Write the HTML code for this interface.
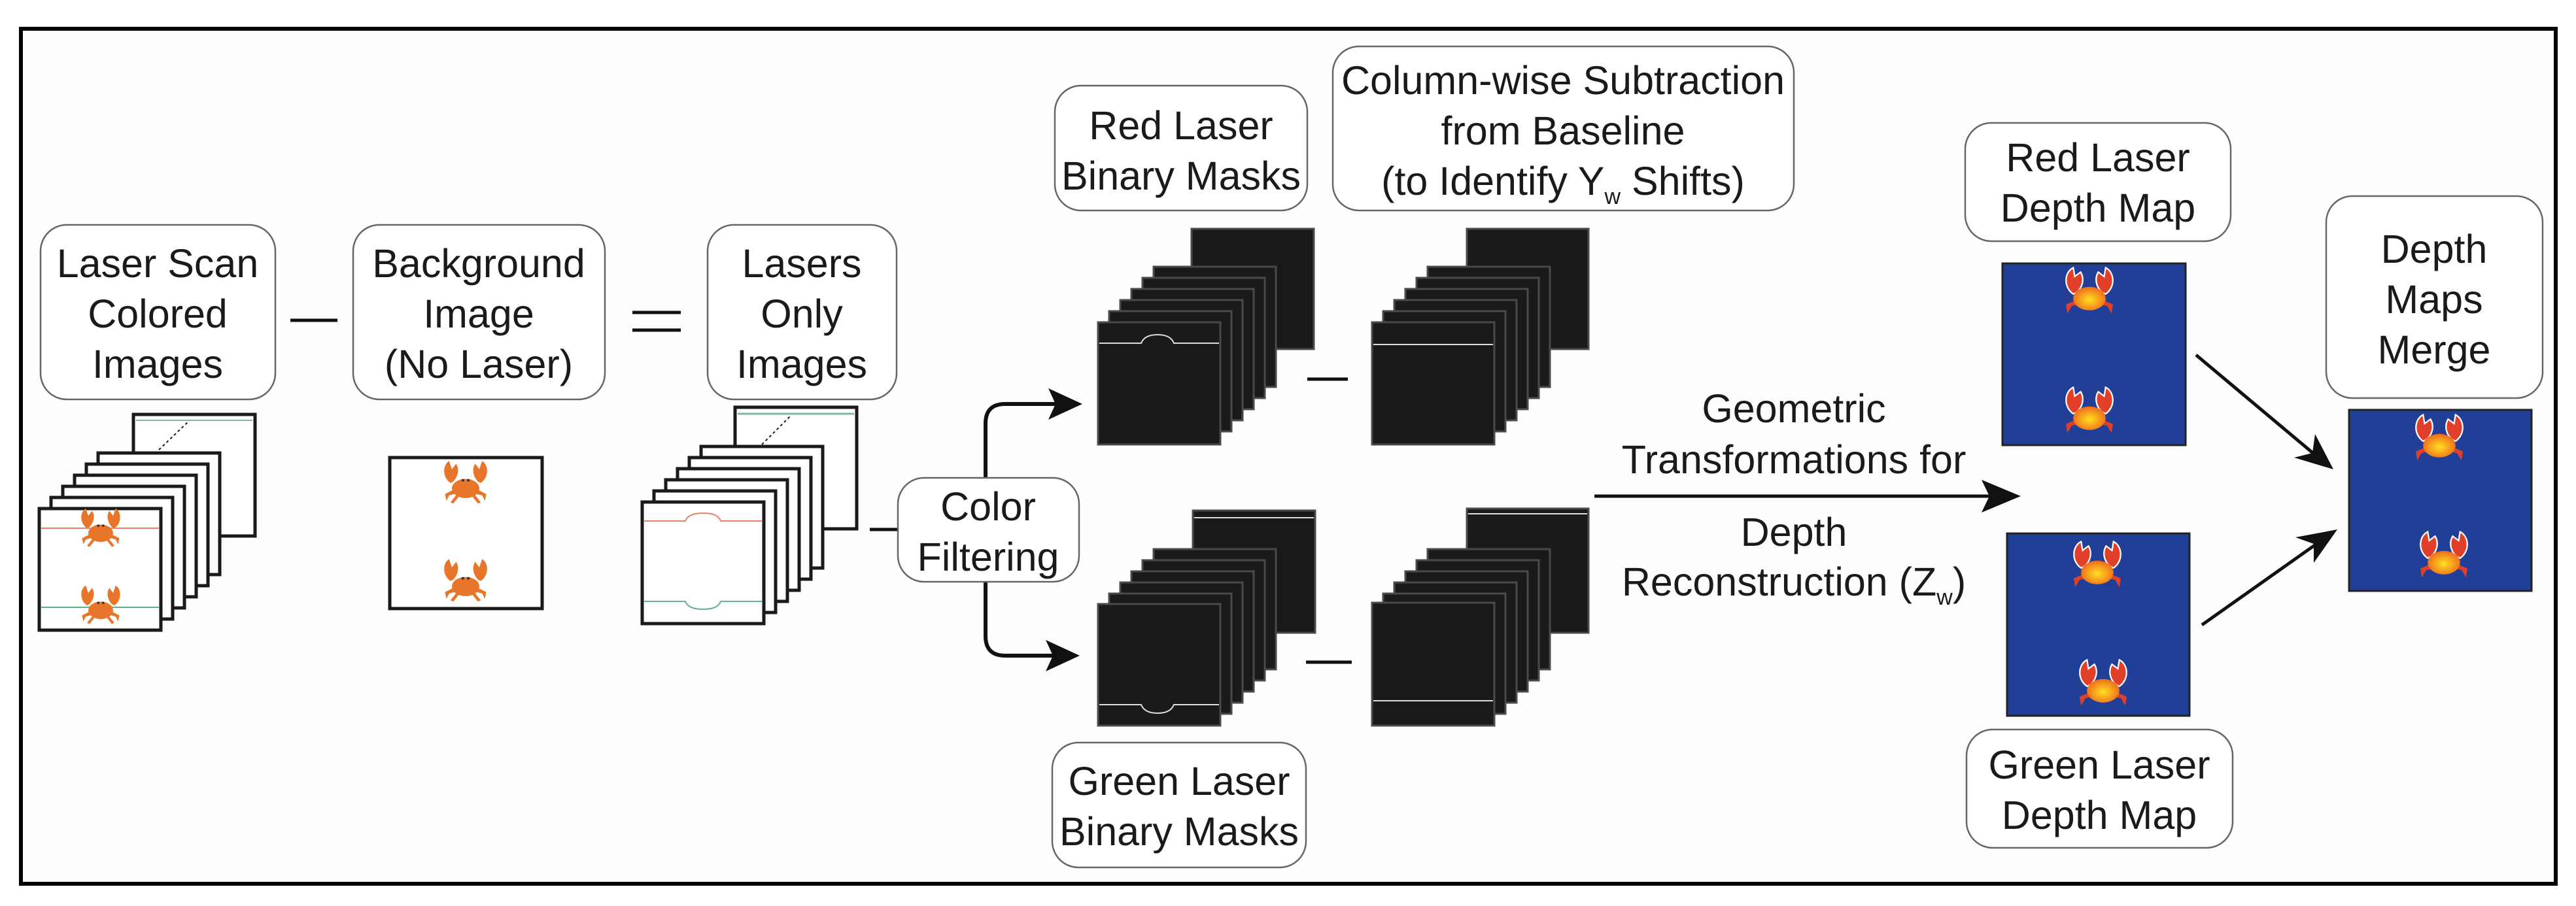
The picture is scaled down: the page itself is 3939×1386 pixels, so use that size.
<!DOCTYPE html>
<html><head><meta charset="utf-8"><style>
html,body{margin:0;padding:0;background:#fff}
svg{display:block}
text{font-family:"Liberation Sans",sans-serif;font-size:61px;fill:#1a1a1a;text-anchor:middle}
</style></head><body>
<svg width="3939" height="1386" viewBox="0 0 3939 1386" xmlns="http://www.w3.org/2000/svg">
<defs>
<radialGradient id="cg" cx="50%" cy="55%" r="55%"><stop offset="0" stop-color="#ffe020"/><stop offset="1" stop-color="#ee6a1c"/></radialGradient>
<symbol id="crab" viewBox="-40 -40 80 80" overflow="visible">
 <g fill="#e8762a">
  <ellipse cx="0" cy="6" rx="20" ry="14"/>
  <path d="M-22,-2 C-34,-10 -34,-28 -24,-34 L-20,-22 L-14,-30 C-8,-22 -12,-10 -18,-4 Z"/>
  <path d="M22,-2 C34,-10 34,-28 24,-34 L20,-22 L14,-30 C8,-22 12,-10 18,-4 Z"/>
  <path d="M-18,8 L-30,14 L-28,24 L-24,16 L-16,14 Z M18,8 L30,14 L28,24 L24,16 L16,14 Z M-14,16 L-22,26 L-18,28 L-10,18 Z M14,16 L22,26 L18,28 L10,18 Z"/>
 </g>
 <circle cx="-4" cy="-6" r="2" fill="#333"/><circle cx="4" cy="-6" r="2" fill="#333"/>
</symbol>
<symbol id="dcrab" viewBox="-40 -40 80 80" overflow="visible">
 <g fill="#e0402a" stroke="#fff" stroke-width="2">
  <path d="M-22,0 C-36,-10 -34,-30 -22,-36 L-20,-24 L-12,-30 C-6,-20 -10,-8 -18,-2 Z"/>
  <path d="M22,0 C36,-10 34,-30 22,-36 L20,-24 L12,-30 C6,-20 10,-8 18,-2 Z"/>
  <path d="M-18,8 L-32,14 L-30,26 L-24,16 L-14,14 Z M18,8 L32,14 L30,26 L24,16 L14,14 Z" stroke="none"/>
 </g>
 <ellipse cx="0" cy="6" rx="22" ry="16" fill="url(#cg)"/>
</symbol>
</defs>
<rect x="0" y="0" width="3939" height="1386" fill="#fff"/>
<rect x="32" y="44" width="3876" height="1308" fill="#fdfdfd" stroke="#000" stroke-width="6"/>

<g fill="#fff" stroke="#666" stroke-width="2.5">
 <rect x="62" y="344" width="359" height="267" rx="40"/>
 <rect x="540" y="344" width="385" height="267" rx="40"/>
 <rect x="1082" y="344" width="289" height="267" rx="40"/>
 <rect x="1613" y="131" width="386" height="191" rx="40"/>
 <rect x="2038" y="71" width="705" height="251" rx="40"/>
 <rect x="1609" y="1136" width="388" height="191" rx="40"/>
 <rect x="3005" y="188" width="406" height="181" rx="40"/>
 <rect x="3007" y="1116" width="407" height="181" rx="40"/>
 <rect x="3557" y="300" width="331" height="309" rx="40"/>
</g>

<text x="241" y="424">Laser Scan</text><text x="241" y="501">Colored</text><text x="241" y="578">Images</text>
<text x="732" y="424">Background</text><text x="732" y="501">Image</text><text x="732" y="578">(No Laser)</text>
<text x="1226" y="424">Lasers</text><text x="1226" y="501">Only</text><text x="1226" y="578">Images</text>
<text x="1806" y="213">Red Laser</text><text x="1806" y="290">Binary Masks</text>
<text x="2390" y="144">Column-wise Subtraction</text><text x="2390" y="221">from Baseline</text>
<text x="2390" y="298">(to Identify Y<tspan font-size="34" dy="14">w</tspan><tspan dy="-14"> Shifts)</tspan></text>
<text x="1803" y="1216">Green Laser</text><text x="1803" y="1293">Binary Masks</text>
<text x="3208" y="262">Red Laser</text><text x="3208" y="339">Depth Map</text>
<text x="3210" y="1191">Green Laser</text><text x="3210" y="1268">Depth Map</text>
<text x="3722" y="402">Depth</text><text x="3722" y="479">Maps</text><text x="3722" y="556">Merge</text>
<text x="2743" y="646">Geometric</text><text x="2743" y="724">Transformations for</text>
<text x="2743" y="835">Depth</text><text x="2743" y="911">Reconstruction (Z<tspan font-size="34" dy="14">w</tspan><tspan dy="-14">)</tspan></text>

<g stroke="#111" stroke-width="5">
 <line x1="444" y1="490" x2="516" y2="490"/>
 <line x1="967" y1="478" x2="1041" y2="478"/><line x1="967" y1="505" x2="1041" y2="505"/>
 <line x1="1330" y1="810" x2="1375" y2="810"/>
 <line x1="1999" y1="580" x2="2061" y2="580"/>
 <line x1="1997" y1="1013" x2="2067" y2="1013"/>
</g>

<!-- left stack -->
<g fill="#fff" stroke="#1a1a1a" stroke-width="5">
 <rect x="204" y="634" width="186" height="186"/>
 <line x1="243" y1="688" x2="290" y2="643" stroke-dasharray="4 4" stroke-width="2"/>
 <line x1="208" y1="643" x2="386" y2="643" stroke="#7fb89a" stroke-width="2"/>
 <rect x="150" y="693" width="186" height="186"/>
 <rect x="132" y="710" width="186" height="186"/>
 <rect x="114" y="727" width="186" height="186"/>
 <rect x="96" y="744" width="186" height="186"/>
 <rect x="78" y="761" width="186" height="186"/>
 <rect x="60" y="778" width="186" height="186"/>
</g>
<line x1="63" y1="808" x2="243" y2="808" stroke="#e8806a" stroke-width="2"/>
<line x1="63" y1="929" x2="243" y2="929" stroke="#5fb38a" stroke-width="2"/>
<use href="#crab" x="116" y="772" width="76" height="76"/>
<use href="#crab" x="116" y="890" width="76" height="76"/>

<!-- background -->
<rect x="596" y="700" width="233" height="231" fill="#fff" stroke="#1a1a1a" stroke-width="5"/>
<use href="#crab" x="670" y="699" width="84" height="84"/>
<use href="#crab" x="670" y="849" width="84" height="84"/>

<!-- lasers only stack -->
<g fill="#fff" stroke="#1a1a1a" stroke-width="5">
 <rect x="1124" y="623" width="186" height="186"/>
 <line x1="1165" y1="680" x2="1210" y2="635" stroke-dasharray="4 4" stroke-width="2"/>
 <line x1="1128" y1="633" x2="1306" y2="633" stroke="#7fb89a" stroke-width="3"/>
 <rect x="1072" y="683" width="186" height="186"/>
 <rect x="1054" y="700" width="186" height="186"/>
 <rect x="1036" y="717" width="186" height="186"/>
 <rect x="1018" y="734" width="186" height="186"/>
 <rect x="1000" y="751" width="186" height="186"/>
 <rect x="982" y="768" width="186" height="186"/>
</g>
<path d="M985,797 H1048 Q1052,785 1075,785 Q1098,785 1102,797 H1165" fill="none" stroke="#e8806a" stroke-width="2"/>
<path d="M985,920 H1048 Q1052,932 1075,932 Q1098,932 1102,920 H1165" fill="none" stroke="#5fb38a" stroke-width="2"/>

<!-- mask stacks -->
<g fill="#1a1a1a" stroke="#4a4a4a" stroke-width="3">
 <rect x="1822" y="350" width="187" height="184"/>
 <rect x="1764" y="408" width="187" height="184"/>
 <rect x="1747" y="425" width="187" height="184"/>
 <rect x="1730" y="442" width="187" height="184"/>
 <rect x="1713" y="459" width="187" height="184"/>
 <rect x="1696" y="476" width="187" height="184"/>
 <rect x="1679" y="493" width="187" height="187"/>
</g>
<path d="M1681,525 H1745 Q1750,512 1770,512 Q1790,512 1795,525 H1864" fill="none" stroke="#ddd" stroke-width="2"/>
<g fill="#1a1a1a" stroke="#4a4a4a" stroke-width="3">
 <rect x="2243" y="350" width="186" height="184"/>
 <rect x="2183" y="408" width="187" height="184"/>
 <rect x="2166" y="425" width="187" height="184"/>
 <rect x="2149" y="442" width="187" height="184"/>
 <rect x="2132" y="459" width="187" height="184"/>
 <rect x="2115" y="476" width="187" height="184"/>
 <rect x="2098" y="493" width="187" height="187"/>
</g>
<line x1="2100" y1="527" x2="2283" y2="527" stroke="#ddd" stroke-width="2"/>
<g fill="#1a1a1a" stroke="#4a4a4a" stroke-width="3">
 <rect x="1824" y="781" width="187" height="187"/>
 <rect x="1764" y="840" width="187" height="184"/>
 <rect x="1747" y="857" width="187" height="184"/>
 <rect x="1730" y="874" width="187" height="184"/>
 <rect x="1713" y="891" width="187" height="184"/>
 <rect x="1696" y="908" width="187" height="184"/>
 <rect x="1679" y="924" width="187" height="186"/>
</g>
<line x1="1826" y1="792" x2="2009" y2="792" stroke="#ddd" stroke-width="2"/>
<path d="M1681,1078 H1745 Q1750,1091 1770,1091 Q1790,1091 1795,1078 H1864" fill="none" stroke="#ddd" stroke-width="2"/>
<g fill="#1a1a1a" stroke="#4a4a4a" stroke-width="3">
 <rect x="2243" y="778" width="186" height="190"/>
 <rect x="2183" y="840" width="187" height="184"/>
 <rect x="2166" y="857" width="187" height="184"/>
 <rect x="2149" y="874" width="187" height="184"/>
 <rect x="2132" y="891" width="187" height="184"/>
 <rect x="2115" y="908" width="187" height="184"/>
 <rect x="2098" y="922" width="187" height="188"/>
</g>
<line x1="2245" y1="786" x2="2427" y2="786" stroke="#ddd" stroke-width="2"/>
<line x1="2100" y1="1072" x2="2283" y2="1072" stroke="#ddd" stroke-width="2"/>

<!-- color filter arrows -->
<path d="M1620,618 H1537 Q1507,618 1507,648 V973 Q1507,1003 1537,1003 H1615" fill="none" stroke="#111" stroke-width="6"/>
<rect x="1373" y="731" width="277" height="159" rx="40" fill="#fff" stroke="#666" stroke-width="2.5"/>
<text x="1511" y="796">Color</text><text x="1511" y="873">Filtering</text>
<path d="M1655,618 L1603,594 L1614,618 L1603,642 Z" fill="#111"/>
<path d="M1651,1003 L1599,979 L1610,1003 L1599,1027 Z" fill="#111"/>

<!-- geometric arrow -->
<line x1="2438" y1="759" x2="3055" y2="759" stroke="#111" stroke-width="5"/>
<path d="M3090,759 L3030,734 L3042,759 L3030,784 Z" fill="#111"/>

<!-- depth maps -->
<g fill="#213f97" stroke="#222" stroke-width="3">
 <rect x="3062" y="403" width="280" height="278"/>
 <rect x="3069" y="816" width="279" height="279"/>
 <rect x="3592" y="627" width="279" height="277"/>
</g>
<use href="#dcrab" x="3150" y="405" width="90" height="90"/>
<use href="#dcrab" x="3150" y="588" width="90" height="90"/>
<use href="#dcrab" x="3162" y="824" width="90" height="90"/>
<use href="#dcrab" x="3171" y="1005" width="90" height="90"/>
<use href="#dcrab" x="3685" y="630" width="90" height="90"/>
<use href="#dcrab" x="3692" y="809" width="90" height="90"/>

<!-- merge arrows -->
<line x1="3358" y1="543" x2="3545" y2="700" stroke="#111" stroke-width="5"/>
<path d="M3568,718 L3508,700 L3536,693 L3540,664 Z" fill="#111"/>
<line x1="3367" y1="956" x2="3548" y2="828" stroke="#111" stroke-width="5"/>
<path d="M3574,810 L3538,861 L3538,832 L3510,822 Z" fill="#111"/>
</svg>
</body></html>
